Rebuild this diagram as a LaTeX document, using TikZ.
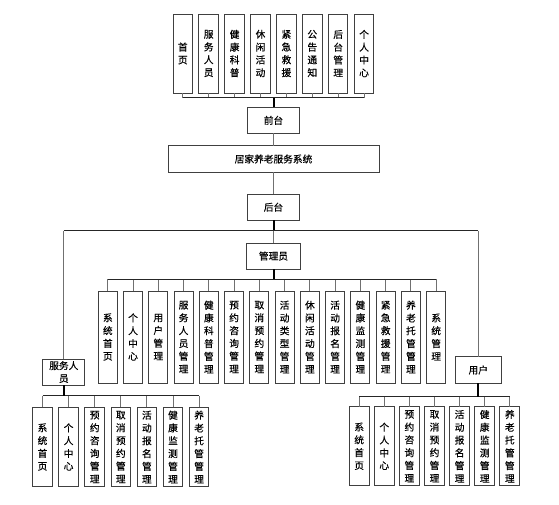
\documentclass[tikz,border=0pt]{standalone}
\usepackage{fontspec}
\newfontfamily\cjk[FakeBold=0.5]{Noto Sans CJK SC}
\usepackage{tikz}
\usetikzlibrary{positioning, calc}
\definecolor{boxline}{HTML}{404040}
\definecolor{stubline}{HTML}{707070}

\begin{document}
\begin{tikzpicture}[
  x=1pt, y=-1pt,
  box/.style={rectangle, draw=boxline, line width=1pt, fill=white, outer sep=0pt, inner sep=1pt, align=center, font=\cjk\fontsize{9.7}{12.8}\selectfont},
  tbox/.style={box, minimum width=19.5pt, minimum height=79pt},
  abox/.style={box, minimum width=19pt, minimum height=92pt},
  lbox/.style={box, minimum width=19.6pt, minimum height=79.4pt},
  rbox/.style={box, minimum width=19.7pt, minimum height=79.3pt},
  stub/.style={draw=stubline, line width=1pt},
  bus/.style={draw=black!85, line width=1pt},
  trunk/.style={draw=black, line width=2pt}
]
  \path[fill=white, use as bounding box] (0,0) rectangle (559,504);

  % front-end pages
  \node[tbox] at (182.8,53.5) (m1) {首\\页};
  \node[tbox, right=6.4pt of m1] (m2) {服\\务\\人\\员};
  \node[tbox, right=6.4pt of m2] (m3) {健\\康\\科\\普};
  \node[tbox, right=6.4pt of m3] (m4) {休\\闲\\活\\动};
  \node[tbox, right=6.4pt of m4] (m5) {紧\\急\\救\\援};
  \node[tbox, right=6.4pt of m5] (m6) {公\\告\\通\\知};
  \node[tbox, right=6.4pt of m6] (m7) {后\\台\\管\\理};
  \node[tbox, right=6.4pt of m7] (m8) {个\\人\\中\\心};

  \node[box, minimum width=52pt, minimum height=26pt] at (273.5,120.3) (qt) {前台};
  \node[box, minimum width=211pt, minimum height=26.6pt] at (273.5,159) (sys) {居家养老服务系统};
  \node[box, minimum width=52pt, minimum height=26pt] at (273.5,207.2) (ht) {后台};
  \node[box, minimum width=54pt, minimum height=26pt] at (273.5,256) (gly) {管理员};
  \node[box, minimum width=42.3pt, minimum height=26pt] at (63.8,372) (fw) {服务人\\员};
  \node[box, minimum width=45.6pt, minimum height=26.6pt] at (478.3,370) (yh) {用户};

  \coordinate (topbus) at (273.5,97.5);
  \coordinate (topline) at (273.5,230.7);
  \coordinate (adminbus) at (273.5,279.3);
  \coordinate (leftbus) at (63.8,395.7);
  \coordinate (rightbus) at (478.3,396.7);

  % admin pages
  \node[abox] at (107.8,337) (a1) {系\\统\\首\\页};
  \node[abox, right=6.26pt of a1] (a2) {个\\人\\中\\心};
  \node[abox, right=6.26pt of a2] (a3) {用\\户\\管\\理};
  \node[abox, right=6.26pt of a3] (a4) {服\\务\\人\\员\\管\\理};
  \node[abox, right=6.26pt of a4] (a5) {健\\康\\科\\普\\管\\理};
  \node[abox, right=6.26pt of a5] (a6) {预\\约\\咨\\询\\管\\理};
  \node[abox, right=6.26pt of a6] (a7) {取\\消\\预\\约\\管\\理};
  \node[abox, right=6.26pt of a7] (a8) {活\\动\\类\\型\\管\\理};
  \node[abox, right=6.26pt of a8] (a9) {休\\闲\\活\\动\\管\\理};
  \node[abox, right=6.26pt of a9] (a10) {活\\动\\报\\名\\管\\理};
  \node[abox, right=6.26pt of a10] (a11) {健\\康\\监\\测\\管\\理};
  \node[abox, right=6.26pt of a11] (a12) {紧\\急\\救\\援\\管\\理};
  \node[abox, right=6.26pt of a12] (a13) {养\\老\\托\\管\\管\\理};
  \node[abox, right=6.26pt of a13] (a14) {系\\统\\管\\理};

  % service staff pages
  \node[lbox] at (42.5,447) (s1) {系\\统\\首\\页};
  \node[lbox, right=6.5pt of s1] (s2) {个\\人\\中\\心};
  \node[lbox, right=6.5pt of s2] (s3) {预\\约\\咨\\询\\管\\理};
  \node[lbox, right=6.5pt of s3] (s4) {取\\消\\预\\约\\管\\理};
  \node[lbox, right=6.5pt of s4] (s5) {活\\动\\报\\名\\管\\理};
  \node[lbox, right=6.5pt of s5] (s6) {健\\康\\监\\测\\管\\理};
  \node[lbox, right=6.5pt of s6] (s7) {养\\老\\托\\管\\管\\理};

  % user pages
  \node[rbox] at (359.2,446.3) (u1) {系\\统\\首\\页};
  \node[rbox, right=5.4pt of u1] (u2) {个\\人\\中\\心};
  \node[rbox, right=5.4pt of u2] (u3) {预\\约\\咨\\询\\管\\理};
  \node[rbox, right=5.4pt of u3] (u4) {取\\消\\预\\约\\管\\理};
  \node[rbox, right=5.4pt of u4] (u5) {活\\动\\报\\名\\管\\理};
  \node[rbox, right=5.4pt of u5] (u6) {健\\康\\监\\测\\管\\理};
  \node[rbox, right=5.4pt of u6] (u7) {养\\老\\托\\管\\管\\理};

  % connectors
  \foreach \i in {1,...,8}
    \draw[stub] (m\i.south) -- (m\i.south |- topbus);
  \draw[bus] (m1.south |- topbus) -- (m8.south |- topbus);
  \draw[trunk] (qt.north) -- (qt.north |- topbus);
  \draw[stub] (qt) -- (sys);
  \draw[stub] (sys) -- (ht);
  \draw[trunk] (ht.south) -- (ht.south |- topline);
  \draw[bus] (fw.north |- topline) -- (yh.north |- topline);
  \draw[stub] (ht.south |- topline) -- (gly.north);
  \draw[stub] (fw.north |- topline) -- (fw.north);
  \draw[stub] (yh.north |- topline) -- (yh.north);

  \foreach \i in {1,...,14}
    \draw[stub] (a\i.north) -- (a\i.north |- adminbus);
  \draw[bus] (a1.north |- adminbus) -- (a14.north |- adminbus);
  \draw[trunk] (gly.south) -- (gly.south |- adminbus);

  \foreach \i in {1,...,7}
    \draw[stub] (s\i.north) -- (s\i.north |- leftbus);
  \draw[bus] (s1.north |- leftbus) -- (s7.north |- leftbus);
  \draw[trunk] (fw.south) -- (fw.south |- leftbus);

  \foreach \i in {1,...,7}
    \draw[stub] (u\i.north) -- (u\i.north |- rightbus);
  \draw[bus] (u1.north |- rightbus) -- (u7.north |- rightbus);
  \draw[trunk] (yh.south) -- (yh.south |- rightbus);
\end{tikzpicture}
\end{document}
